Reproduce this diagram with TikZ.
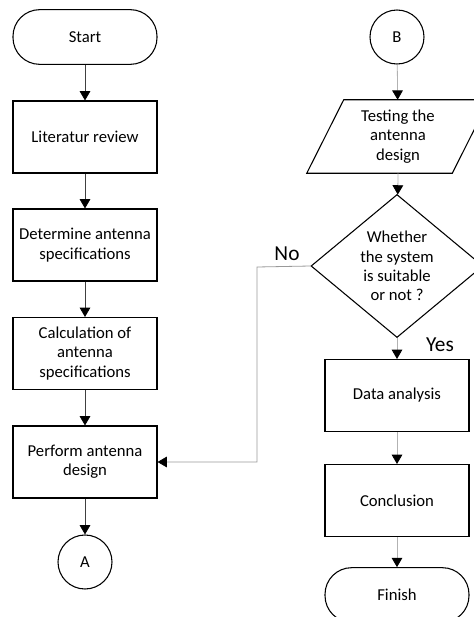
\documentclass[tikz,border=0pt]{standalone}
\usepackage{fontspec}
\setmainfont{Carlito}
\usetikzlibrary{arrows.meta,shapes.geometric,calc}

\tikzset{
  proc/.style={draw, line width=0.8pt, minimum width=108pt, minimum height=54pt, align=center, inner sep=2pt},
  term/.style={draw, line width=0.8pt, minimum width=108pt, minimum height=41pt, rounded corners=20pt, align=center},
  conn/.style={draw, circle, line width=0.8pt, minimum size=40.5pt, inner sep=0pt},
  decis/.style={draw, diamond, line width=0.8pt, minimum width=129pt, minimum height=106.5pt, inner sep=0pt, align=center},
  flow/.style={line width=0.6pt, -{Triangle[width=8pt,length=7pt,color=black]}},
  lab/.style={font=\fontsize{16}{18}\selectfont}
}

\begin{document}
\begin{tikzpicture}[x=0.75pt, y=-0.75pt, font=\fontsize{12.5}{14.5}\selectfont]
      \clip (0,0) rectangle (474,617);
      % Left column
      \node[term] (start) at (85,37) {Start};
      \node[proc] (lit) at (85,137) {Literatur review};
      \node[proc] (det) at (85,245) {Determine antenna\\specifications};
      \node[proc] (calc) at (85,353.5) {Calculation of\\antenna\\specifications};
      \node[proc] (perf) at (85,462) {Perform antenna\\design};
      \node[conn] (A) at (85,562) {A};
      \draw[flow, black!75] (start) -- (lit);
      \draw[flow, black!75] (lit) -- (det);
      \draw[flow, black!75] (det) -- (calc);
      \draw[flow, black!75] (calc) -- (perf);
      \draw[flow, black!75] (perf) -- (A);
      % Right column
      \node[conn] (B) at (397,37) {B};
      \node[minimum width=108.75pt, minimum height=54.75pt, align=center] (test) at (398,136.5) {Testing the\\antenna\\design};
      \draw[line width=0.8pt] ($(test.north west)+(18.5,0)$) -- ($(test.north east)+(18.5,0)$)
        -- ($(test.south east)+(-18.5,0)$) -- ($(test.south west)+(-18.5,0)$) -- cycle;
      \node[decis] (dec) at (397,266) {Whether\\the system\\is suitable\\or not ?};
      \node[proc] (data) at (397,395.5) {Data analysis};
      \node[proc] (concl) at (397,500.5) {Conclusion};
      \node[term] (fin) at (397,595) {Finish};
      \draw[flow, black!30] (B) -- (test);
      \draw[flow, black!30] (test.south) -- (dec);
      \draw[flow, black!30] (dec) -- (data);
      \draw[flow, black!30] (data) -- (concl);
      \draw[flow, black!30] (concl) -- (fin);
      % Decision labels and return path
      \node[lab, anchor=south] (no) at (287,265) {No};
      \node[lab, anchor=south] (yes) at (440,356) {Yes};
      \coordinate (back) at (257,267);
      \draw[flow, black!40] (dec.west) -- (back) |- (perf.east);
    \end{tikzpicture}
\end{document}
